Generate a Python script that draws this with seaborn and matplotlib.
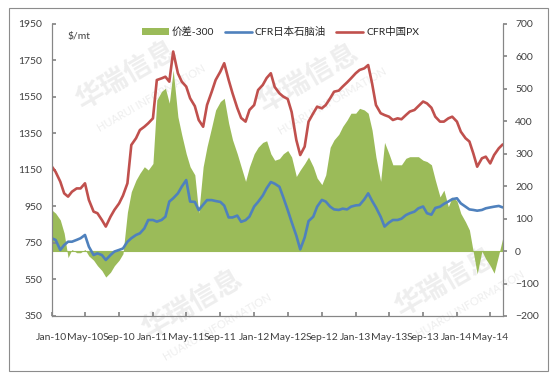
import pandas as pd
import matplotlib
matplotlib.use('Agg')
import matplotlib.pyplot as plt
import matplotlib.dates as mdates
from matplotlib.patches import Patch, Rectangle
from matplotlib.lines import Line2D
import seaborn as sns

# --- dados (quinzenais: dia 1 e 15, Jan-2010 .. Jun-2014) ---
dates = pd.date_range('2010-01-01', '2014-06-15', freq='SMS')

# CFR China PX ($/mt, eixo esquerdo)
px_china = [
    1170, 1140, 1086, 1022, 1004, 1031, 1049, 1049,
    1077, 986, 922, 913, 876, 840, 894, 931,
    967, 1010, 1077, 1287, 1324, 1369, 1387, 1406,
    1433, 1643, 1652, 1661, 1634, 1799, 1680, 1634,
    1607, 1543, 1500, 1424, 1387, 1506, 1579, 1643,
    1689, 1735, 1643, 1570, 1490, 1435, 1415, 1479,
    1506, 1588, 1616, 1654, 1680, 1605, 1570, 1552,
    1539, 1468, 1314, 1232, 1278, 1415, 1461, 1497,
    1488, 1506, 1543, 1579, 1585, 1607, 1630, 1652,
    1680, 1698, 1707, 1725, 1625, 1506, 1461, 1451,
    1442, 1424, 1433, 1428, 1451, 1470, 1479, 1500,
    1525, 1515, 1491, 1442, 1415, 1415, 1433, 1442,
    1415, 1360, 1324, 1306, 1241, 1168, 1214, 1223,
    1186, 1232, 1269, 1290,
]

# CFR Japan naphtha ($/mt, eixo esquerdo)
naphtha_japan = [
    776, 767, 712, 739, 757, 757, 767, 776,
    794, 730, 684, 693, 684, 657, 684, 703,
    712, 720, 757, 776, 794, 803, 830, 876,
    876, 867, 876, 894, 977, 995, 1022, 1059,
    1095, 977, 975, 930, 960, 985, 985, 980,
    975, 955, 890, 890, 900, 866, 875, 895,
    950, 975, 1010, 1050, 1084, 1075, 1058, 1000,
    930, 865, 790, 715, 780, 870, 894, 949,
    986, 977, 949, 934, 931, 938, 934, 949,
    956, 958, 989, 1022, 981, 945, 894, 840,
    862, 876, 876, 883, 903, 913, 922, 940,
    950, 913, 905, 942, 949, 964, 977, 990,
    995, 967, 949, 934, 931, 927, 931, 940,
    945, 949, 953, 945,
]

# spread - 300 ($/mt, eixo direito)
spread_300 = [
    127, 117, 96, 55, -20, 5, -5, -5,
    5, -15, -28, -45, -60, -80, -65, -45,
    -28, -8, 120, 183, 219, 240, 260, 250,
    270, 466, 492, 502, 456, 558, 414, 358,
    300, 260, 235, 117, 260, 322, 383, 435,
    461, 471, 394, 343, 300, 260, 215, 260,
    300, 320, 335, 340, 300, 280, 285, 300,
    310, 290, 230, 250, 270, 290, 260, 225,
    205, 235, 320, 343, 360, 384, 404, 425,
    425, 440, 435, 425, 373, 290, 215, 335,
    300, 266, 266, 266, 286, 291, 291, 291,
    280, 276, 266, 219, 167, 188, 137, 167,
    155, 116, 90, 65, -3, -70, 0, -24,
    -45, -68, -10, 40,
]

left_ticks = list(range(350, 1951, 200))
right_ticks = list(range(-200, 701, 100))

df = pd.DataFrame({'date': dates, 'px': px_china,
                   'naphtha': naphtha_japan, 'spread': spread_300})

GREEN = '#9BBB59'
BLUE = '#4F81BD'
RED = '#C0504D'
GREY = '#868686'

sns.set_theme(style='white')
plt.rcParams['font.family'] = ['Lato', 'Noto Sans CJK SC', 'DejaVu Sans']

fig = plt.figure(figsize=(5.5, 3.76), dpi=100)
fig.patch.set_facecolor('white')

# marca d'agua (atras de tudo)
for (wx, wy) in [(0.23, 0.80), (0.56, 0.79), (0.35, 0.19), (0.81, 0.25)]:
    fig.text(wx, wy, '华瑞信息', fontsize=20, fontweight='bold', color='#eeeeee',
             rotation=30, ha='center', va='center', zorder=-5)
    fig.text(wx + 0.045, wy - 0.06, 'HUARUI INFORMATION', fontsize=8, color='#eeeeee',
             rotation=30, ha='center', va='center', zorder=-5)

ax = fig.add_axes([0.094, 0.1596, 0.820, 0.7766])
ax2 = ax.twinx()
ax.set_zorder(ax2.get_zorder() + 1)
ax.patch.set_visible(False)
ax2.patch.set_visible(False)

# area do spread no eixo direito
ax2.fill_between(df['date'], 0, df['spread'], color=GREEN, linewidth=0)
ax2.axhline(0, color=GREEN, linewidth=0.8)

sns.lineplot(data=df, x='date', y='naphtha', ax=ax, color=BLUE, linewidth=1.9)
sns.lineplot(data=df, x='date', y='px', ax=ax, color=RED, linewidth=1.9)

ax.set_xlim(dates[0], dates[-1])
ax.set_ylim(350, 1950)
ax.set_yticks(left_ticks)
ax2.set_ylim(-200, 700)
ax2.set_yticks(right_ticks)
ax.set_xlabel('')
ax.set_ylabel('')
ax2.set_ylabel('')

ax.xaxis.set_major_locator(mdates.MonthLocator(bymonth=[1, 5, 9]))
ax.xaxis.set_major_formatter(mdates.DateFormatter('%b-%y'))

for a in (ax, ax2):
    a.spines['top'].set_visible(False)
    for s in ('left', 'right', 'bottom'):
        a.spines[s].set_color(GREY)
        a.spines[s].set_linewidth(0.8)

ax.tick_params(axis='y', direction='in', length=3, color=GREY, labelsize=7.5,
               labelcolor='#404040', pad=7, left=True)
ax.tick_params(axis='x', direction='in', length=3, color=GREY, labelsize=7.5,
               labelcolor='#404040', pad=12, bottom=True)
ax2.tick_params(axis='y', direction='out', length=3, color=GREY, labelsize=7.5,
                labelcolor='#404040', pad=6, right=True)

fig.text(68 / 550, 1 - 36 / 376, r'\$/mt', fontsize=7.5, color='#404040', va='center')

handles = [Patch(facecolor=GREEN, edgecolor='none'),
           Line2D([], [], color=BLUE, linewidth=1.9),
           Line2D([], [], color=RED, linewidth=1.9)]
labels = ['价差-300', 'CFR日本石脑油', 'CFR中国PX']
fig.legend(handles, labels, loc='center', bbox_to_anchor=(0.51, 0.915), ncol=3,
           frameon=False, fontsize=7.5, handlelength=2.6, handleheight=0.6,
           columnspacing=1.0, handletextpad=0.3)

fig.patches.append(Rectangle((9 / 550, 1 - 371 / 376), 539 / 550, 363 / 376,
                             transform=fig.transFigure, fill=False,
                             edgecolor='#8c8c8c', linewidth=0.8))

fig.savefig('out.png', dpi=100, facecolor='white')
